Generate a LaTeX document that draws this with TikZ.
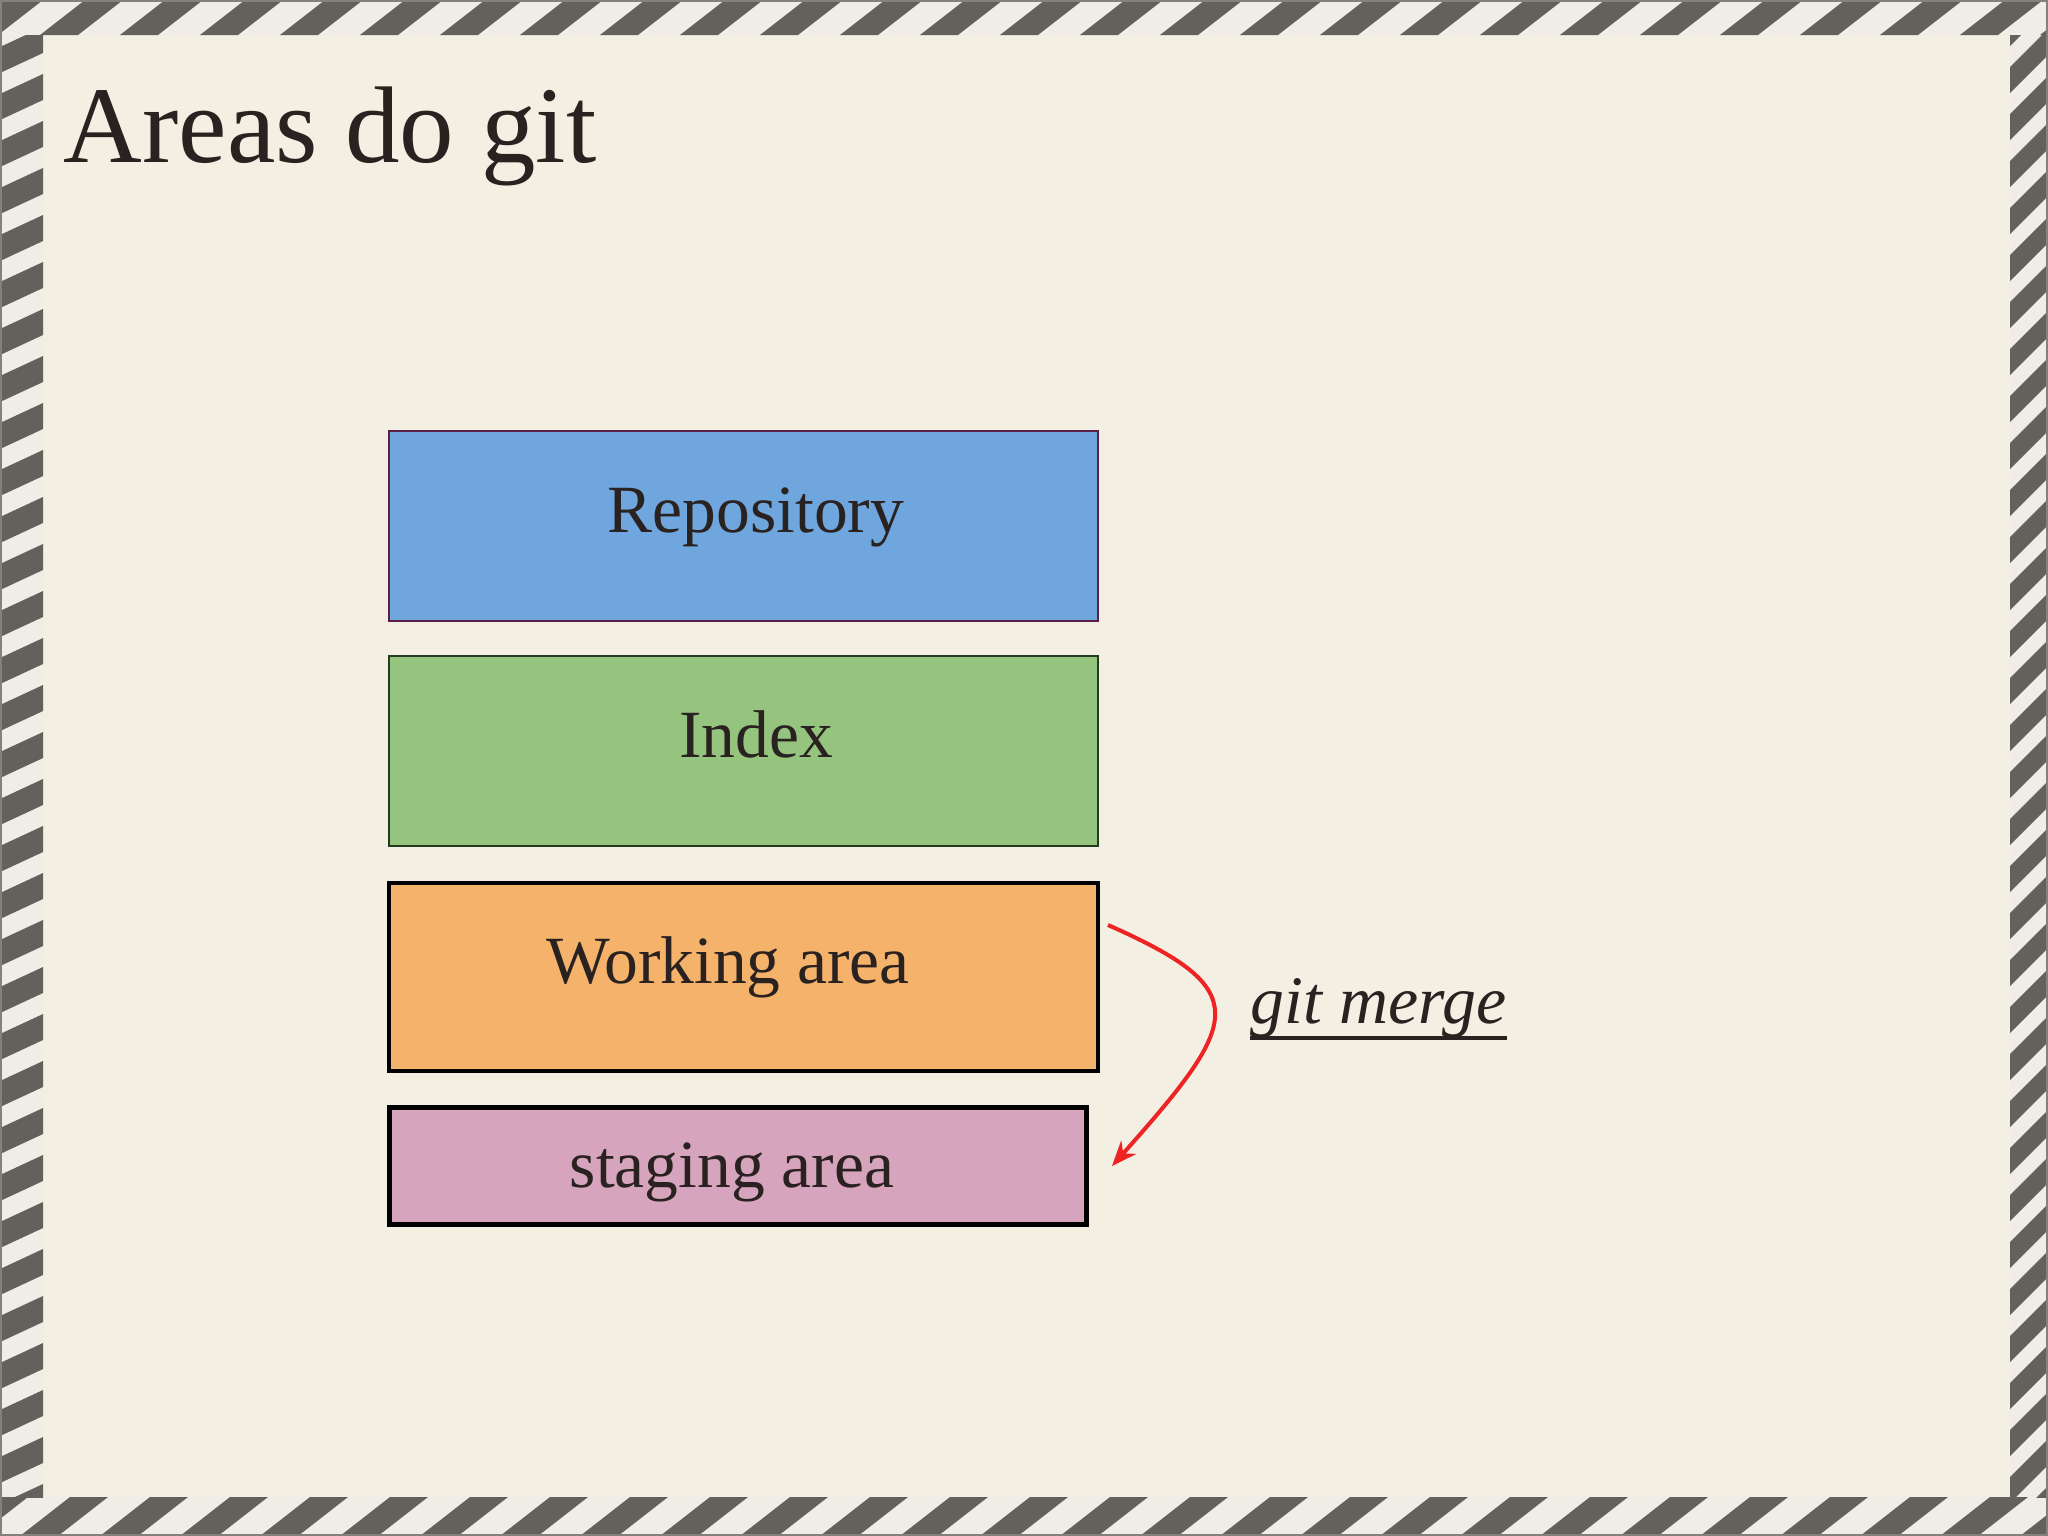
\documentclass[tikz,border=0pt]{standalone}
\usepackage{fontspec}
\setmainfont{Liberation Serif}
\usetikzlibrary{arrows.meta}
\definecolor{paper}{HTML}{F3EFE3}
\definecolor{bandlight}{HTML}{EFEDE5}
\definecolor{banddark}{HTML}{63615C}
\definecolor{ink}{HTML}{2A2220}
\definecolor{repofill}{HTML}{6FA6DD}
\definecolor{repoline}{HTML}{5A2048}
\definecolor{indexfill}{HTML}{95C47E}
\definecolor{indexline}{HTML}{263A20}
\definecolor{workfill}{HTML}{F5B26B}
\definecolor{stagefill}{HTML}{D6A4BD}
\definecolor{mergered}{HTML}{EE2424}
\tikzset{
  areabox/.style={rectangle, inner sep=0pt, minimum width=7.09cm},
  areatext/.style={anchor=base, inner sep=0pt, text=ink, font=\fontsize{19.2pt}{23pt}\selectfont},
  stripe/.style={fill=banddark},
}
\begin{document}
\begin{tikzpicture}[x=0.01cm, y=-0.01cm]
\useasboundingbox (0,0) rectangle (2048,1536);
% paper
\fill[paper] (0,0) rectangle (2048,1536);
% striped frame
\fill[bandlight, even odd rule] (0,0) rectangle (2048,1536) (43,35) rectangle (2010,1497);
\begin{scope}
  \clip (0,0) rectangle (2048,35);
  \foreach \k in {-1,...,26} {
    \fill[stripe] (80*\k+40,35) -- ++(38,0) -- ++(45,-35) -- ++(-38,0) -- cycle;
  }
\end{scope}
\begin{scope}
  \clip (0,1497) rectangle (2048,1536);
  \foreach \k in {-1,...,26} {
    \fill[stripe] (80*\k+20,1536) -- ++(38,0) -- ++(50,-39) -- ++(-38,0) -- cycle;
  }
\end{scope}
\begin{scope}
  \clip (0,35) rectangle (43,1497);
  \foreach \k in {0,...,33} {
    \fill[stripe] (0,47*\k) -- ++(43,-20) -- ++(0,26) -- ++(-43,20) -- cycle;
  }
\end{scope}
\begin{scope}
  \clip (2010,35) rectangle (2048,1497);
  \foreach \k in {0,...,33} {
    \fill[stripe] (2010,47*\k+20) -- ++(38,-38) -- ++(0,26) -- ++(-38,38) -- cycle;
  }
\end{scope}
\draw[banddark!80, line width=0.04cm] (0,0) rectangle (2048,1536);

% title
\node[anchor=base west, inner sep=0pt, text=ink, font=\fontsize{31pt}{37pt}\selectfont] (title) at (63,162) {Areas do git};

% boxes
\node[areabox, fill=repofill, draw=repoline, line width=0.02cm, minimum height=1.90cm] (repo) at (743.5,526) {};
\node[areabox, fill=indexfill, draw=indexline, line width=0.02cm, minimum height=1.90cm] (index) at (743.5,751) {};
\node[areabox, fill=workfill, draw=black, line width=0.045cm, minimum height=1.88cm] (work) at (743.5,977) {};
\node[areabox, fill=stagefill, draw=black, line width=0.05cm, minimum width=6.96cm, minimum height=1.17cm] (stage) at (738,1166) {};

% box labels
\node[areatext] (repotext) at (756,532) {Repository};
\node[areatext] (indextext) at (756,757) {Index};
\node[areatext] (worktext) at (728,983) {Working area};
\node[areatext] (stagetext) at (732,1187) {staging area};

% git merge arrow
\coordinate (mergestart) at (1108,925);
\coordinate (mergeend) at (1112,1166);
\draw[mergered, line width=0.04cm, -{Stealth[length=0.25cm, width=0.2cm]}]
  (mergestart) .. controls (1255,990) and (1242,1020) .. (mergeend);

\node[anchor=base west, inner sep=0pt, text=ink, font=\fontsize{19.3pt}{23pt}\selectfont\itshape] (merge) at (1250,1023) {git merge};
\draw[ink, line width=0.04cm] (merge.south west) -- (merge.south east);
\end{tikzpicture}
\end{document}
